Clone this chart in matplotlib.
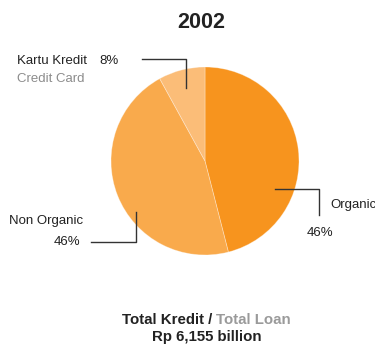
import numpy as np
import matplotlib.pyplot as plt

plt.rcParams['font.family'] = ['Liberation Sans', 'DejaVu Sans']

# kredit 2002 per segmen (%)
segments = ['Organic', 'Non Organic', 'Kartu Kredit']
shares = [46, 46, 8]
colors = ['#f7941e', '#f9aa4c', '#fbbd78']
year = '2002'
total_text = 'Rp 6,155 billion'

fig = plt.figure(figsize=(3.75, 3.45), dpi=100)
ax = fig.add_axes([0, 0, 1, 1])

cx, cy, r = 205, 161, 94
# sumbu y dibalik, jadi arah putar juga dibalik supaya searah jarum jam
ax.pie(shares, colors=colors, startangle=270, counterclock=True,
       center=(cx, cy), radius=r,
       wedgeprops=dict(linewidth=0.6, edgecolor=(1, 1, 1, 0.35)))
ax.set_xlim(0, 375)
ax.set_ylim(345, 0)
ax.set_aspect('equal')
ax.axis('off')

dark = '#222222'
grey = '#8c8c8c'
line_kw = dict(color='#333333', lw=1)

# garis penunjuk
ax.plot([186, 186, 142], [88, 59, 59], **line_kw)
ax.plot([275, 319, 319], [189, 189, 215], **line_kw)
ax.plot([136, 136, 91], [212, 242, 242], **line_kw)

fs = 9.5
ax.text(17, 61, segments[2], fontsize=fs, color=dark, va='center')
ax.text(99, 61, f'{shares[2]}%', fontsize=fs, color=dark, va='center')
ax.text(17, 79, 'Credit Card', fontsize=fs, color=grey, va='center')

ax.text(330, 205, segments[0], fontsize=fs, color=dark, va='center')
ax.text(307, 233, f'{shares[0]}%', fontsize=fs, color=dark, va='center')

ax.text(9, 221, segments[1], fontsize=fs, color=dark, va='center')
ax.text(54, 242, f'{shares[1]}%', fontsize=fs, color=dark, va='center')

ax.text(201, 23, year, fontsize=15.5, fontweight='bold', color=dark,
        ha='center', va='center')

t1 = ax.text(216, 320, 'Total Kredit / ', fontsize=10.8, fontweight='bold',
             color=dark, ha='right', va='center')
ax.annotate('Total Loan', xycoords=t1, xy=(1, 0.5), va='center',
            fontsize=10.8, fontweight='bold', color='#9a9a9a')
ax.text(207, 337, total_text, fontsize=10.8, fontweight='bold', color=dark,
        ha='center', va='center')

fig.savefig('out.png', dpi=100)
